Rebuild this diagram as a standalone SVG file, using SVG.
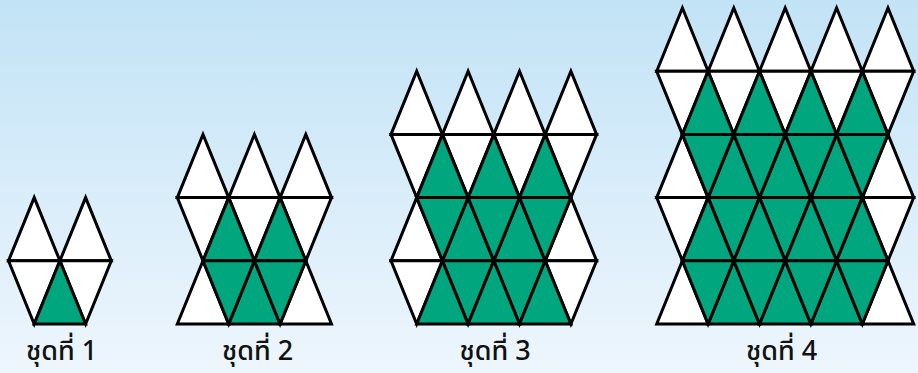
<svg xmlns="http://www.w3.org/2000/svg" xmlns:xlink="http://www.w3.org/1999/xlink" width="918" height="373" viewBox="0 0 918 373">
<defs>
<linearGradient id="bg" x1="0" y1="0" x2="0" y2="1">
<stop offset="0" stop-color="#c2e3f6"/>
<stop offset="1" stop-color="#eef6fd"/>
</linearGradient>
<path id="u" d="M0,63.2 L25.7,0 L51.4,63.2 Z"/>
<path id="d" d="M0,0 L51.4,0 L25.7,63.2 Z"/>
<style>
use{stroke:#000;stroke-width:3;stroke-linejoin:miter}
.w{fill:#ffffff}
.g{fill:#00a67e}
text{font-family:"Noto Sans Thai","Noto Sans","DejaVu Sans",sans-serif;font-size:27px;font-weight:500;fill:#111;text-anchor:middle}
</style>
</defs>
<rect x="0" y="0" width="918" height="373" fill="url(#bg)"/>

<g id="set1">
<use href="#u" x="8.5" y="197.6" class="w"/>
<use href="#u" x="59.9" y="197.6" class="w"/>
<use href="#d" x="8.5" y="260.8" class="w"/>
<use href="#d" x="59.9" y="260.8" class="w"/>
<use href="#u" x="34.2" y="260.8" class="g"/>
<text x="61.5" y="360">ชุดที่ 1</text>
</g>

<g id="set2">
<use href="#u" x="177.3" y="134.4" class="w"/>
<use href="#u" x="228.7" y="134.4" class="w"/>
<use href="#u" x="280.1" y="134.4" class="w"/>
<use href="#d" x="177.3" y="197.6" class="w"/>
<use href="#d" x="228.7" y="197.6" class="w"/>
<use href="#d" x="280.1" y="197.6" class="w"/>
<use href="#u" x="203" y="197.6" class="g"/>
<use href="#u" x="254.4" y="197.6" class="g"/>
<use href="#u" x="177.3" y="260.8" class="w"/>
<use href="#u" x="228.7" y="260.8" class="g"/>
<use href="#u" x="280.1" y="260.8" class="w"/>
<use href="#d" x="203" y="260.8" class="g"/>
<use href="#d" x="254.4" y="260.8" class="g"/>
<text x="257.5" y="360">ชุดที่ 2</text>
</g>

<g id="set3">
<use href="#u" x="391" y="71.2" class="w"/>
<use href="#u" x="442.4" y="71.2" class="w"/>
<use href="#u" x="493.8" y="71.2" class="w"/>
<use href="#u" x="545.2" y="71.2" class="w"/>
<use href="#d" x="391" y="134.4" class="w"/>
<use href="#d" x="442.4" y="134.4" class="w"/>
<use href="#d" x="493.8" y="134.4" class="w"/>
<use href="#d" x="545.2" y="134.4" class="w"/>
<use href="#u" x="416.7" y="134.4" class="g"/>
<use href="#u" x="468.1" y="134.4" class="g"/>
<use href="#u" x="519.5" y="134.4" class="g"/>
<use href="#u" x="391" y="197.6" class="w"/>
<use href="#u" x="442.4" y="197.6" class="g"/>
<use href="#u" x="493.8" y="197.6" class="g"/>
<use href="#u" x="545.2" y="197.6" class="w"/>
<use href="#d" x="416.7" y="197.6" class="g"/>
<use href="#d" x="468.1" y="197.6" class="g"/>
<use href="#d" x="519.5" y="197.6" class="g"/>
<use href="#d" x="391" y="260.8" class="w"/>
<use href="#d" x="442.4" y="260.8" class="g"/>
<use href="#d" x="493.8" y="260.8" class="g"/>
<use href="#d" x="545.2" y="260.8" class="w"/>
<use href="#u" x="416.7" y="260.8" class="g"/>
<use href="#u" x="468.1" y="260.8" class="g"/>
<use href="#u" x="519.5" y="260.8" class="g"/>
<text x="495" y="360">ชุดที่ 3</text>
</g>

<g id="set4">
<use href="#u" x="656.7" y="8" class="w"/>
<use href="#u" x="708.1" y="8" class="w"/>
<use href="#u" x="759.5" y="8" class="w"/>
<use href="#u" x="810.9" y="8" class="w"/>
<use href="#u" x="862.3" y="8" class="w"/>
<use href="#d" x="656.7" y="71.2" class="w"/>
<use href="#d" x="708.1" y="71.2" class="w"/>
<use href="#d" x="759.5" y="71.2" class="w"/>
<use href="#d" x="810.9" y="71.2" class="w"/>
<use href="#d" x="862.3" y="71.2" class="w"/>
<use href="#u" x="682.4" y="71.2" class="g"/>
<use href="#u" x="733.8" y="71.2" class="g"/>
<use href="#u" x="785.2" y="71.2" class="g"/>
<use href="#u" x="836.6" y="71.2" class="g"/>
<use href="#u" x="656.7" y="134.4" class="w"/>
<use href="#u" x="708.1" y="134.4" class="g"/>
<use href="#u" x="759.5" y="134.4" class="g"/>
<use href="#u" x="810.9" y="134.4" class="g"/>
<use href="#u" x="862.3" y="134.4" class="w"/>
<use href="#d" x="682.4" y="134.4" class="g"/>
<use href="#d" x="733.8" y="134.4" class="g"/>
<use href="#d" x="785.2" y="134.4" class="g"/>
<use href="#d" x="836.6" y="134.4" class="g"/>
<use href="#d" x="656.7" y="197.6" class="w"/>
<use href="#d" x="708.1" y="197.6" class="g"/>
<use href="#d" x="759.5" y="197.6" class="g"/>
<use href="#d" x="810.9" y="197.6" class="g"/>
<use href="#d" x="862.3" y="197.6" class="w"/>
<use href="#u" x="682.4" y="197.6" class="g"/>
<use href="#u" x="733.8" y="197.6" class="g"/>
<use href="#u" x="785.2" y="197.6" class="g"/>
<use href="#u" x="836.6" y="197.6" class="g"/>
<use href="#u" x="656.7" y="260.8" class="w"/>
<use href="#u" x="708.1" y="260.8" class="g"/>
<use href="#u" x="759.5" y="260.8" class="g"/>
<use href="#u" x="810.9" y="260.8" class="g"/>
<use href="#u" x="862.3" y="260.8" class="w"/>
<use href="#d" x="682.4" y="260.8" class="g"/>
<use href="#d" x="733.8" y="260.8" class="g"/>
<use href="#d" x="785.2" y="260.8" class="g"/>
<use href="#d" x="836.6" y="260.8" class="g"/>
<text x="781.5" y="360">ชุดที่ 4</text>
</g>
</svg>
